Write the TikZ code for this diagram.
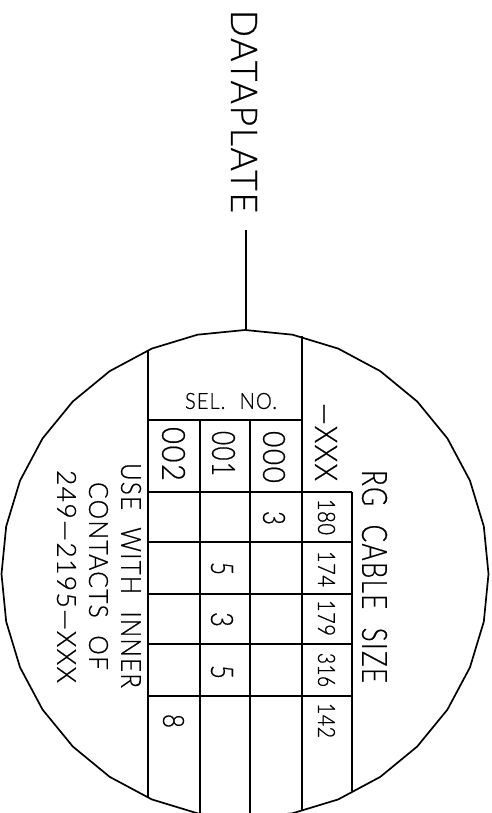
\documentclass[tikz,border=0pt]{standalone}
\usepackage{graphicx}
\usepackage{fontspec}
\newfontfamily\platefont[LetterSpace=5,WordSpace=2.2,FakeBold=0.6]{Lato Light}
\newfontfamily\smallfont[LetterSpace=3,FakeBold=1]{Lato Light}
\usetikzlibrary{positioning}

% text squeezed to its length and letter height, in pt
\newcommand{\platetxt}[3]{\resizebox{#1pt}{#2pt}{\platefont #3}}
\newcommand{\smalltxt}[3]{\resizebox{#1pt}{#2pt}{\smallfont #3}}

\begin{document}
\begin{tikzpicture}[x=1pt,y=1pt,line width=1.7pt]
  \tikzstyle{rule}=[line cap=butt]
  \tikzstyle{plate}=[inner sep=0pt,text=black]
  \tikzstyle{side}=[plate,rotate=-90]

  \useasboundingbox (0,0) rectangle (491,-813);
  \clip (0,0) rectangle (491,-813);

  % rim of the plate
  \draw plot[samples=33,domain=0:360] ({245+243.5*sin(\x)},{-574+244*cos(\x)}) -- cycle;

  % columns
  \draw[rule] (148,-350) -- (148,-798);
  \draw[rule] (200,-420) -- (200,-813);
  \draw[rule] (250,-420) -- (250,-813);
  \draw[rule] (302,-336) -- (302,-811);
  \draw[rule] (352,-492) -- (352,-791);

  % rows
  \draw[rule] (148,-420) -- (302,-420);
  \foreach \rowy in {492,542,594,644,696}
    \draw[rule] (148,-\rowy) -- (352,-\rowy);

  \node[side] (dataplate) at (244,-111.5) {\platetxt{203}{26}{DATAPLATE}};
  \coordinate (leadtop) at (246,-230);
  \coordinate (leadend) at (246,-330);
  \draw[rule] (leadtop) -- (leadend);

  \node[plate] (selno) at (231,-401) {\platetxt{92}{16}{SEL.\ NO.}};

  \node[side] (sel002) at (173.5,-454) {\platetxt{54}{23}{002}};
  \node[side] (sel001) at (223.5,-453.5) {\platetxt{45}{23}{001}};
  \node[side] (sel000) at (274,-457) {\platetxt{52}{22}{000}};
  \node[side] (xxx) at (326,-442) {\platetxt{78}{22}{—XXX}};

  \node[side] (rg180) at (326.5,-517) {\smalltxt{36}{17}{180}};
  \node[side] (rg174) at (326.5,-569) {\smalltxt{36}{17}{174}};
  \node[side] (rg179) at (326.5,-618) {\smalltxt{36}{17}{179}};
  \node[side] (rg316) at (326.5,-670) {\smalltxt{34}{17}{316}};
  \node[side] (rg142) at (326.5,-720.5) {\smalltxt{35}{17}{142}};

  \node[side] (pin3a) at (274,-518) {\platetxt{14}{22}{3}};
  \node[side] (pin5a) at (222,-568.5) {\platetxt{13}{22}{5}};
  \node[side] (pin3b) at (222,-619.5) {\platetxt{15}{22}{3}};
  \node[side] (pin5b) at (222,-672) {\platetxt{14}{22}{5}};
  \node[side] (pin8) at (173.5,-721) {\platetxt{14}{21}{8}};

  \node[side] (rgsize) at (374.5,-576.5) {\platetxt{213}{25}{RG CABLE SIZE}};
  \node[side] (usewith) at (131,-575.5) {\platetxt{225}{20}{USE WITH INNER}};
  \node[side] (contacts) at (98.5,-576) {\platetxt{188}{19}{CONTACTS OF}};
  \node[side] (partno) at (66.5,-576.5) {\platetxt{213}{19}{249—2195—XXX}};
\end{tikzpicture}
\end{document}
